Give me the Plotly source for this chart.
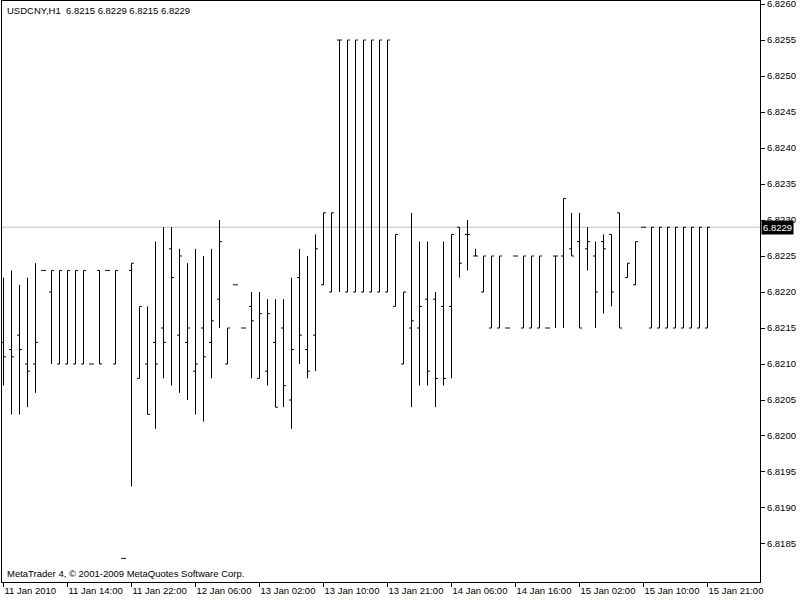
import plotly.graph_objects as go

# ---- data (USDCNY, H1) ----
opens = [6.8213, 6.8212, 6.8214, 6.8210, 6.8210, 6.8223, 6.8220, 6.8210, 6.8210, 6.8210,
         6.8210, 6.8210, 6.8223, 6.8223, 6.8210, 6.8183, 6.8223, 6.8208, 6.8210, 6.8213,
         6.8215, 6.8226, 6.8214, 6.8213, 6.8209, 6.8215, 6.8213, 6.8219, 6.8210, 6.8221,
         6.8215, 6.8218, 6.8208, 6.8209, 6.8213, 6.8215, 6.8205, 6.8222, 6.8212, 6.8214,
         6.8221, 6.8220, 6.8255, 6.8220, 6.8220, 6.8220, 6.8220, 6.8220, 6.8220, 6.8218,
         6.8210, 6.8215, 6.8215, 6.8219, 6.8219, 6.8218, 6.8218, 6.8229, 6.8228, 6.8225,
         6.8220, 6.8215, 6.8215, 6.8215, 6.8225, 6.8215, 6.8215, 6.8215, 6.8215, 6.8225,
         6.8225, 6.8226, 6.8227, 6.8226, 6.8225, 6.8227, 6.8228, 6.8231, 6.8222, 6.8221,
         6.8229, 6.8215, 6.8215, 6.8215, 6.8215, 6.8215, 6.8215, 6.8215, 6.8215]
highs = [6.8222, 6.8223, 6.8221, 6.8222, 6.8224, 6.8223, 6.8223, 6.8223, 6.8223, 6.8223,
         6.8223, 6.8210, 6.8223, 6.8223, 6.8223, 6.8183, 6.8224, 6.8218, 6.8218, 6.8227,
         6.8229, 6.8229, 6.8226, 6.8224, 6.8226, 6.8225, 6.8226, 6.8230, 6.8215, 6.8221,
         6.8215, 6.8220, 6.8220, 6.8219, 6.8219, 6.8219, 6.8222, 6.8226, 6.8225, 6.8228,
         6.8231, 6.8231, 6.8255, 6.8255, 6.8255, 6.8255, 6.8255, 6.8255, 6.8255, 6.8228,
         6.8220, 6.8231, 6.8227, 6.8227, 6.8220, 6.8227, 6.8228, 6.8229, 6.8230, 6.8226,
         6.8225, 6.8225, 6.8225, 6.8215, 6.8225, 6.8225, 6.8225, 6.8225, 6.8215, 6.8225,
         6.8233, 6.8231, 6.8231, 6.8229, 6.8227, 6.8228, 6.8228, 6.8231, 6.8224, 6.8227,
         6.8229, 6.8229, 6.8229, 6.8229, 6.8229, 6.8229, 6.8229, 6.8229, 6.8229]
lows = [6.8207, 6.8203, 6.8203, 6.8204, 6.8206, 6.8223, 6.8210, 6.8210, 6.8210, 6.8210,
        6.8210, 6.8210, 6.8210, 6.8223, 6.8210, 6.8183, 6.8193, 6.8208, 6.8203, 6.8201,
        6.8208, 6.8207, 6.8206, 6.8205, 6.8203, 6.8202, 6.8208, 6.8215, 6.8210, 6.8221,
        6.8215, 6.8208, 6.8208, 6.8207, 6.8204, 6.8204, 6.8201, 6.8210, 6.8208, 6.8209,
        6.8221, 6.8220, 6.8220, 6.8220, 6.8220, 6.8220, 6.8220, 6.8220, 6.8220, 6.8218,
        6.8210, 6.8204, 6.8207, 6.8207, 6.8204, 6.8207, 6.8208, 6.8222, 6.8223, 6.8225,
        6.8220, 6.8215, 6.8215, 6.8215, 6.8225, 6.8215, 6.8215, 6.8215, 6.8215, 6.8215,
        6.8215, 6.8225, 6.8215, 6.8223, 6.8215, 6.8217, 6.8218, 6.8215, 6.8222, 6.8221,
        6.8229, 6.8215, 6.8215, 6.8215, 6.8215, 6.8215, 6.8215, 6.8215, 6.8215]
closes = [6.8211, 6.8211, 6.8212, 6.8209, 6.8213, 6.8223, 6.8223, 6.8223, 6.8223, 6.8223,
          6.8223, 6.8210, 6.8210, 6.8223, 6.8223, 6.8183, 6.8224, 6.8218, 6.8203, 6.8210,
          6.8213, 6.8222, 6.8225, 6.8215, 6.8210, 6.8211, 6.8216, 6.8227, 6.8215, 6.8221,
          6.8215, 6.8216, 6.8217, 6.8217, 6.8204, 6.8207, 6.8212, 6.8214, 6.8209, 6.8226,
          6.8231, 6.8231, 6.8255, 6.8255, 6.8255, 6.8255, 6.8255, 6.8255, 6.8255, 6.8228,
          6.8220, 6.8216, 6.8218, 6.8209, 6.8208, 6.8208, 6.8228, 6.8224, 6.8228, 6.8225,
          6.8225, 6.8225, 6.8225, 6.8215, 6.8225, 6.8225, 6.8225, 6.8225, 6.8215, 6.8225,
          6.8233, 6.8225, 6.8215, 6.8227, 6.8220, 6.8226, 6.8220, 6.8215, 6.8224, 6.8227,
          6.8229, 6.8229, 6.8229, 6.8229, 6.8229, 6.8229, 6.8229, 6.8229, 6.8229]

time_labels = ["11 Jan 2010", "11 Jan 14:00", "11 Jan 22:00", "12 Jan 06:00",
               "13 Jan 02:00", "13 Jan 10:00", "13 Jan 21:00", "14 Jan 06:00",
               "14 Jan 16:00", "15 Jan 02:00", "15 Jan 10:00", "15 Jan 21:00"]
price_ticks = [6.8185, 6.8190, 6.8195, 6.8200, 6.8205, 6.8210, 6.8215, 6.8220,
               6.8225, 6.8230, 6.8235, 6.8240, 6.8245, 6.8250, 6.8255, 6.8260]
last_price = 6.8229
symbol = "USDCNY,H1"
copyright_text = "MetaTrader 4, © 2001-2009 MetaQuotes Software Corp."

bar_index = list(range(len(opens)))
label_index = bar_index[::8]

FONT = "Liberation Sans, Arial, sans-serif"
FS = 9.5

fig = go.Figure(go.Ohlc(
    x=bar_index, open=opens, high=highs, low=lows, close=closes,
    increasing=dict(line=dict(color="black", width=1)),
    decreasing=dict(line=dict(color="black", width=1)),
    tickwidth=0.3, showlegend=False,
))

fig.add_shape(type="line", xref="paper", x0=0, x1=1, yref="y", y0=last_price, y1=last_price,
              line=dict(color="#C0C0C0", width=1), layer="below")

fig.add_annotation(xref="paper", x=1, yref="y", y=last_price, xanchor="left", yanchor="middle",
                   text=f"{last_price:.4f}", showarrow=False, bgcolor="black",
                   font=dict(color="white", size=FS, family=FONT), borderpad=1, xshift=1)

fig.add_annotation(xref="paper", x=0, yref="paper", y=1, xanchor="left", yanchor="top",
                   text=f"{symbol}\u00a0 " + " ".join(f"{v:.4f}" for v in [opens[-1], highs[-1], lows[-1], closes[-1]]),
                   showarrow=False, font=dict(color="black", size=FS, family=FONT),
                   xshift=3, yshift=-2)

fig.add_annotation(xref="paper", x=0, yref="paper", y=0, xanchor="left", yanchor="bottom",
                   text=copyright_text, showarrow=False,
                   font=dict(color="black", size=FS, family=FONT), xshift=3, yshift=1)

fig.update_layout(
    width=800, height=600,
    margin=dict(l=2, r=40, t=1, b=18, autoexpand=False),
    paper_bgcolor="white", plot_bgcolor="white",
    font=dict(family=FONT, size=FS, color="black"),
    xaxis=dict(
        range=[-0.1875, 94.5625], rangeslider=dict(visible=False), automargin=False,
        tickvals=label_index, ticktext=time_labels, ticklabelposition="outside right",
        tickangle=0, ticks="outside", ticklen=4, tickcolor="black",
        showgrid=False, zeroline=False,
        showline=True, linecolor="black", linewidth=1, mirror=True,
    ),
    yaxis=dict(
        range=[6.817972, 6.826042], side="right", automargin=False,
        tickvals=price_ticks, ticktext=[f"{v:.4f}" for v in price_ticks],
        ticklabeloverflow="allow",
        ticks="outside", ticklen=4, tickcolor="black", showgrid=False, zeroline=False,
        showline=True, linecolor="black", linewidth=1, mirror=True,
    ),
    hovermode=False,
)

fig.write_html("out.html", config={"displayModeBar": False},
               post_script="document.body.style.margin='0';")
